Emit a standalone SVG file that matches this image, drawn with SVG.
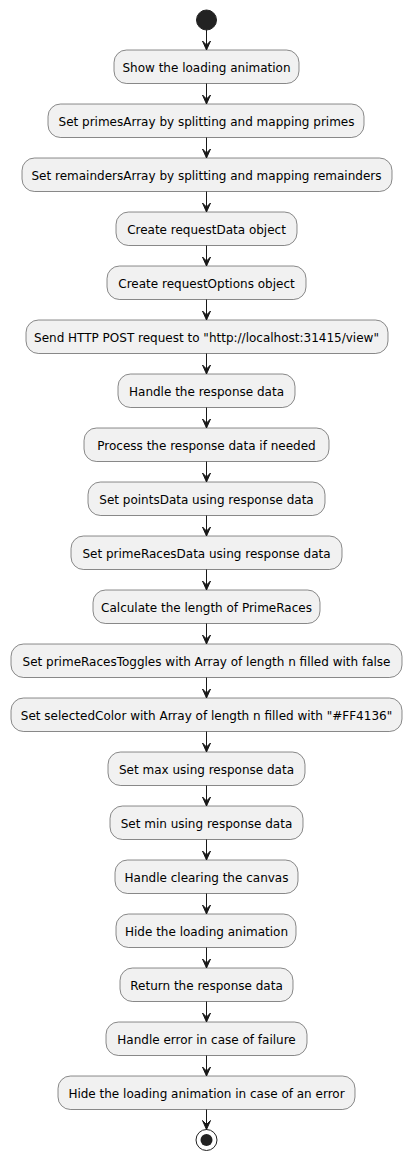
<svg xmlns="http://www.w3.org/2000/svg" width="412" height="1161" viewBox="0 0 412 1161">
<defs>
<style>
.box{fill:#F1F1F1;stroke:#181818;stroke-width:0.5}
.lbl{font-family:"DejaVu Sans",sans-serif;font-size:12px;fill:#000;text-anchor:middle}
.ln{stroke:#181818;stroke-width:1;fill:none}
.ah{fill:#181818;stroke:#181818;stroke-width:1}
</style>
</defs>
<rect width="412" height="1161" fill="#FFFFFF"/>
<g id="start"><circle cx="206.5" cy="20" r="10" fill="#222222" stroke="#222222"/></g>
<g id="n1"><rect class="box" x="114" y="50" width="185" height="33.5" rx="12.5"/><text class="lbl" x="206.5" y="71.5">Show the loading animation</text></g>
<g id="n2"><rect class="box" x="48" y="104" width="316" height="33.5" rx="12.5"/><text class="lbl" x="206.5" y="125.5">Set primesArray by splitting and mapping primes</text></g>
<g id="n3"><rect class="box" x="22" y="158" width="370" height="33.5" rx="12.5"/><text class="lbl" x="206.5" y="179.5">Set remaindersArray by splitting and mapping remainders</text></g>
<g id="n4"><rect class="box" x="116" y="212" width="181" height="33.5" rx="12.5"/><text class="lbl" x="206.5" y="233.5">Create requestData object</text></g>
<g id="n5"><rect class="box" x="107" y="266" width="199" height="33.5" rx="12.5"/><text class="lbl" x="206.5" y="287.5">Create requestOptions object</text></g>
<g id="n6"><rect class="box" x="26" y="320" width="362" height="33.5" rx="12.5"/><text class="lbl" x="206.5" y="341.5">Send HTTP POST request to "http://localhost:31415/view"</text></g>
<g id="n7"><rect class="box" x="118" y="374" width="177" height="33.5" rx="12.5"/><text class="lbl" x="206.5" y="395.5">Handle the response data</text></g>
<g id="n8"><rect class="box" x="84" y="428" width="245" height="33.5" rx="12.5"/><text class="lbl" x="206.5" y="449.5">Process the response data if needed</text></g>
<g id="n9"><rect class="box" x="88" y="482" width="237" height="33.5" rx="12.5"/><text class="lbl" x="206.5" y="503.5">Set pointsData using response data</text></g>
<g id="n10"><rect class="box" x="71" y="536" width="271" height="33.5" rx="12.5"/><text class="lbl" x="206.5" y="557.5">Set primeRacesData using response data</text></g>
<g id="n11"><rect class="box" x="93" y="590" width="227" height="33.5" rx="12.5"/><text class="lbl" x="206.5" y="611.5">Calculate the length of PrimeRaces</text></g>
<g id="n12"><rect class="box" x="11" y="644" width="391" height="33.5" rx="12.5"/><text class="lbl" x="206.5" y="665.5">Set primeRacesToggles with Array of length n filled with false</text></g>
<g id="n13"><rect class="box" x="11" y="698" width="391" height="33.5" rx="12.5"/><text class="lbl" x="206.5" y="719.5">Set selectedColor with Array of length n filled with "#FF4136"</text></g>
<g id="n14"><rect class="box" x="108" y="752" width="197" height="33.5" rx="12.5"/><text class="lbl" x="206.5" y="773.5">Set max using response data</text></g>
<g id="n15"><rect class="box" x="110" y="806" width="193" height="33.5" rx="12.5"/><text class="lbl" x="206.5" y="827.5">Set min using response data</text></g>
<g id="n16"><rect class="box" x="115" y="860" width="183" height="33.5" rx="12.5"/><text class="lbl" x="206.5" y="881.5">Handle clearing the canvas</text></g>
<g id="n17"><rect class="box" x="116" y="914" width="180" height="33.5" rx="12.5"/><text class="lbl" x="206.5" y="935.5">Hide the loading animation</text></g>
<g id="n18"><rect class="box" x="120" y="968" width="173" height="33.5" rx="12.5"/><text class="lbl" x="206.5" y="989.5">Return the response data</text></g>
<g id="n19"><rect class="box" x="106" y="1022" width="201" height="33.5" rx="12.5"/><text class="lbl" x="206.5" y="1043.5">Handle error in case of failure</text></g>
<g id="n20"><rect class="box" x="58" y="1076" width="297" height="33.5" rx="12.5"/><text class="lbl" x="206.5" y="1097.5">Hide the loading animation in case of an error</text></g>
<g id="end"><circle cx="206.5" cy="1140" r="10.5" fill="none" stroke="#222222" stroke-width="1"/><circle cx="206.5" cy="1140" r="6" fill="#222222"/></g>
<g id="connectors">
<line class="ln" x1="206.5" y1="30" x2="206.5" y2="50"/><polygon class="ah" points="202.5,41 206.5,50 210.5,41 206.5,45"/>
<line class="ln" x1="206.5" y1="83.5" x2="206.5" y2="104"/><polygon class="ah" points="202.5,95 206.5,104 210.5,95 206.5,99"/>
<line class="ln" x1="206.5" y1="137.5" x2="206.5" y2="158"/><polygon class="ah" points="202.5,149 206.5,158 210.5,149 206.5,153"/>
<line class="ln" x1="206.5" y1="191.5" x2="206.5" y2="212"/><polygon class="ah" points="202.5,203 206.5,212 210.5,203 206.5,207"/>
<line class="ln" x1="206.5" y1="245.5" x2="206.5" y2="266"/><polygon class="ah" points="202.5,257 206.5,266 210.5,257 206.5,261"/>
<line class="ln" x1="206.5" y1="299.5" x2="206.5" y2="320"/><polygon class="ah" points="202.5,311 206.5,320 210.5,311 206.5,315"/>
<line class="ln" x1="206.5" y1="353.5" x2="206.5" y2="374"/><polygon class="ah" points="202.5,365 206.5,374 210.5,365 206.5,369"/>
<line class="ln" x1="206.5" y1="407.5" x2="206.5" y2="428"/><polygon class="ah" points="202.5,419 206.5,428 210.5,419 206.5,423"/>
<line class="ln" x1="206.5" y1="461.5" x2="206.5" y2="482"/><polygon class="ah" points="202.5,473 206.5,482 210.5,473 206.5,477"/>
<line class="ln" x1="206.5" y1="515.5" x2="206.5" y2="536"/><polygon class="ah" points="202.5,527 206.5,536 210.5,527 206.5,531"/>
<line class="ln" x1="206.5" y1="569.5" x2="206.5" y2="590"/><polygon class="ah" points="202.5,581 206.5,590 210.5,581 206.5,585"/>
<line class="ln" x1="206.5" y1="623.5" x2="206.5" y2="644"/><polygon class="ah" points="202.5,635 206.5,644 210.5,635 206.5,639"/>
<line class="ln" x1="206.5" y1="677.5" x2="206.5" y2="698"/><polygon class="ah" points="202.5,689 206.5,698 210.5,689 206.5,693"/>
<line class="ln" x1="206.5" y1="731.5" x2="206.5" y2="752"/><polygon class="ah" points="202.5,743 206.5,752 210.5,743 206.5,747"/>
<line class="ln" x1="206.5" y1="785.5" x2="206.5" y2="806"/><polygon class="ah" points="202.5,797 206.5,806 210.5,797 206.5,801"/>
<line class="ln" x1="206.5" y1="839.5" x2="206.5" y2="860"/><polygon class="ah" points="202.5,851 206.5,860 210.5,851 206.5,855"/>
<line class="ln" x1="206.5" y1="893.5" x2="206.5" y2="914"/><polygon class="ah" points="202.5,905 206.5,914 210.5,905 206.5,909"/>
<line class="ln" x1="206.5" y1="947.5" x2="206.5" y2="968"/><polygon class="ah" points="202.5,959 206.5,968 210.5,959 206.5,963"/>
<line class="ln" x1="206.5" y1="1001.5" x2="206.5" y2="1022"/><polygon class="ah" points="202.5,1013 206.5,1022 210.5,1013 206.5,1017"/>
<line class="ln" x1="206.5" y1="1055.5" x2="206.5" y2="1076"/><polygon class="ah" points="202.5,1067 206.5,1076 210.5,1067 206.5,1071"/>
<line class="ln" x1="206.5" y1="1109.5" x2="206.5" y2="1129.5"/><polygon class="ah" points="202.5,1120.5 206.5,1129.5 210.5,1120.5 206.5,1124.5"/>
</g>
</svg>
